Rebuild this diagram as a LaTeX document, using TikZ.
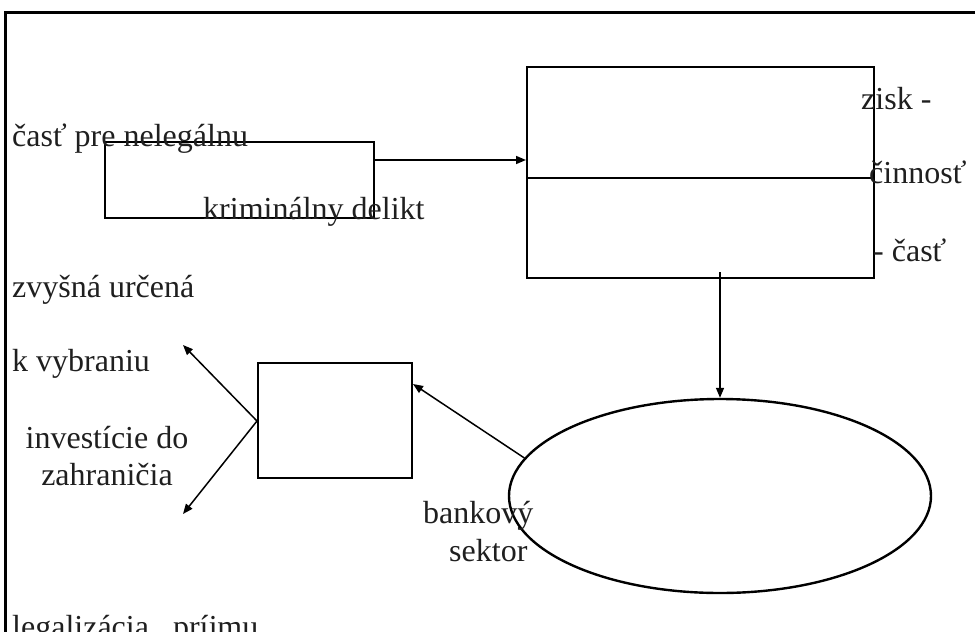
\documentclass[tikz,border=0pt]{standalone}
\usepackage{fontspec}
\setmainfont{Liberation Serif}
\usetikzlibrary{arrows.meta,shapes.geometric}

\tikzset{
  frameline/.style={line width=3pt},
  box/.style={draw, line width=2pt, rectangle, inner sep=0pt},
  oval/.style={draw, line width=2.4pt, ellipse, inner sep=0pt},
  arr/.style={line width=1.5pt, -{Triangle[length=10pt,width=8pt]}},
  lbl/.style={anchor=base west, inner sep=0pt, text=black!88,
              font=\fontsize{32}{36.8}\selectfont},
  lblc/.style={anchor=base, inner sep=0pt, text=black!88, align=center,
               font=\fontsize{32}{36.8}\selectfont},
}

\begin{document}
\begin{tikzpicture}[x=1pt,y=-1pt]
\useasboundingbox (0,0) rectangle (975,632);

% outer frame (runs past the right and bottom edges)
\draw[frameline] (5,700) -- (5,12) -- (1000,12);

% boxes
\node[box, minimum width=269pt, minimum height=76pt] (delikt) at (239.5,180) {};
\node[box, minimum width=347pt, minimum height=211pt] (zisk) at (700.5,172.5) {};
\draw[line width=2pt] (zisk.west |- 0,178) -- (zisk.east |- 0,178);
\node[box, minimum width=154pt, minimum height=115pt] (vyber) at (335,420.5) {};
\node[oval, minimum width=422pt, minimum height=194pt] (bank) at (720,496) {};

% free ends
\coordinate (drop) at (720,272);
\coordinate (up) at (183,345);
\coordinate (down) at (183,514);

% connectors
\draw[arr] (delikt.east |- 0,160) -- (zisk.west |- 0,160);
\draw[arr] (drop) -- (bank.north);
\draw[arr] (bank.169) -- (vyber.east |- 0,384);
\draw[arr] (vyber.west |- 0,421) -- (up);
\draw[arr] (vyber.west |- 0,421) -- (down);

% labels
\node[lbl] (t1) at (12,146) {časť pre nelegálnu};
\node[lbl] (t2) at (203,219) {kriminálny delikt};
\node[lbl] (t3) at (861,109) {zisk -};
\node[lbl] (t4) at (869,183) {činnosť};
\node[lbl] (t5) at (873,261) {- časť};
\node[lbl] (t6) at (12,297) {zvyšná určená};
\node[lbl] (t7) at (12,371) {k vybraniu};
% base anchor of a two-line node sits on its last line
\node[lblc] (t8) at (107,485) {investície do\\zahraničia};
\node[lbl] (t9) at (423,523) {bankový};
\node[lbl] (t10) at (449,561) {sektor};
\node[lbl] (t11) at (12,637) {legalizácia~~~príjmu};
\end{tikzpicture}
\end{document}
